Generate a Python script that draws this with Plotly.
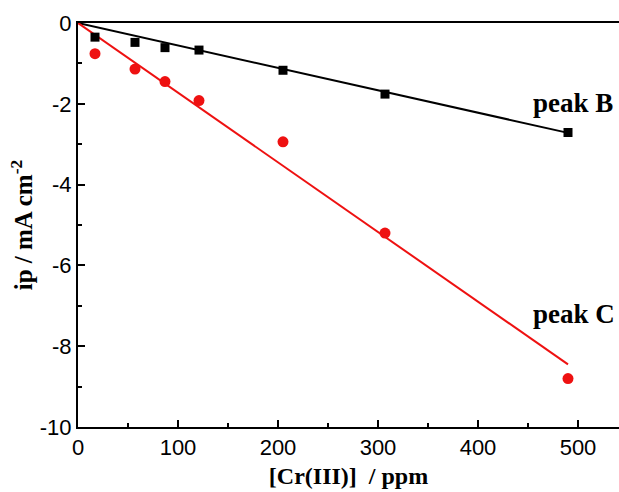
import plotly.graph_objects as go

conc = [17, 57, 87, 121, 205, 307, 490]
peak_B = [-0.35, -0.48, -0.61, -0.67, -1.17, -1.76, -2.71]
peak_C = [-0.76, -1.14, -1.45, -1.92, -2.94, -5.2, -8.8]
fit_x = [0, 490]
fit_B = [0, -2.72]
fit_C = [0, -8.45]
x_ticks = [0, 100, 200, 300, 400, 500]
y_ticks = [0, -2, -4, -6, -8, -10]
y_ticktext = ["0", "-2", "-4", "-6", "-8", "-10"]

fig = go.Figure()
fig.add_trace(go.Scatter(x=fit_x, y=fit_B, mode="lines", line=dict(color="black", width=2), showlegend=False))
fig.add_trace(go.Scatter(x=fit_x, y=fit_C, mode="lines", line=dict(color="#ee1111", width=2), showlegend=False))
fig.add_trace(go.Scatter(x=conc, y=peak_B, mode="markers", marker=dict(symbol="square", size=9, color="black"), showlegend=False))
fig.add_trace(go.Scatter(x=conc, y=peak_C, mode="markers", marker=dict(symbol="circle", size=11, color="#ee1111"), showlegend=False))

serif = "Liberation Serif, Times New Roman, serif"
fig.add_annotation(x=537, y=-1.97, text="<b>peak B</b>", showarrow=False, xanchor="right", yanchor="middle",
                   font=dict(family=serif, size=27, color="black"))
fig.add_annotation(x=539, y=-7.2, text="<b>peak C</b>", showarrow=False, xanchor="right", yanchor="middle",
                   font=dict(family=serif, size=27, color="black"))

axis_common = dict(showgrid=False, zeroline=False, showline=True, linecolor="black", linewidth=2,
                   ticks="inside", ticklen=7, tickwidth=1.5, tickcolor="black", automargin=False,
                   tickfont=dict(family="Liberation Sans, Arial, sans-serif", size=22, color="black"))
fig.update_xaxes(range=[0, 541], tickvals=x_ticks, mirror=True,
                 minor=dict(tickvals=[50, 150, 250, 350, 450], ticks="inside", ticklen=4, tickcolor="black"),
                 title=dict(text="<b>[Cr(III)]  / ppm</b>", font=dict(family=serif, size=24, color="black"), standoff=8),
                 **axis_common)
fig.update_yaxes(range=[-10, 0], tickvals=y_ticks, ticktext=y_ticktext, mirror=False,
                 minor=dict(tickvals=[-1, -3, -5, -7, -9], ticks="inside", ticklen=4, tickcolor="black"),
                 title=dict(text="<b>ip / mA cm<sup>-2</sup></b>", font=dict(family=serif, size=25, color="black"), standoff=0),
                 **axis_common)
fig.update_layout(width=619, height=492, margin=dict(l=78, r=0, t=23, b=65),
                  plot_bgcolor="white", paper_bgcolor="white")
fig.write_html("out.html", config={"displayModeBar": False},
               post_script="document.body.style.margin='0';document.body.style.overflow='hidden';")
